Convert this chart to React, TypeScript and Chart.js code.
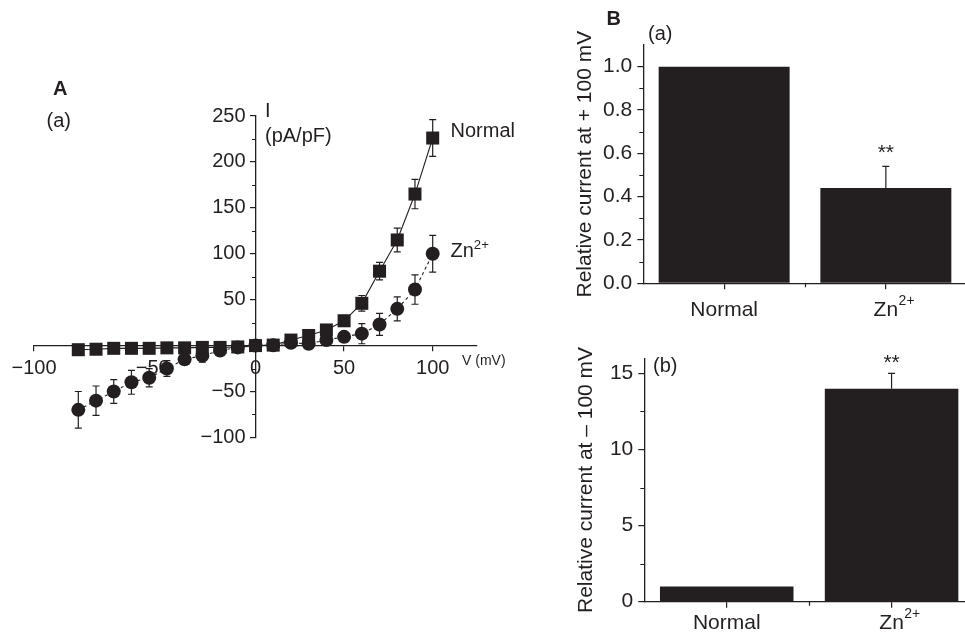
import React, { useEffect, useRef } from 'react';
import { Chart, registerables } from 'chart.js';

Chart.register(...registerables);

const FONT = '"Liberation Sans", Arial, Helvetica, sans-serif';
const INK = '#231f20';

// ---------- Panel A: I–V curves ----------
const voltages = [-100, -90, -80, -70, -60, -50, -40, -30, -20, -10, 0, 10, 20, 30, 40, 50, 60, 70, 80, 90, 100];
const normalCurrent = [-4.5, -4, -3, -3, -3, -2.5, -2.5, -2, -2, -1.5, 0, 0.5, 6, 11, 17, 27, 46, 81, 115, 165, 226];
const normalError = [0, 0, 0, 0, 0, 0, 0, 0, 0, 0, 0, 0, 0, 0, 0, 6, 8.5, 9.5, 13, 16, 20];
const znCurrent = [-70, -60, -50, -40, -35, -25, -15, -11, -5.5, -2, 0, 0.3, 3, 2, 6, 9.5, 13, 23, 40, 61, 100];
const znError = [20, 16, 13, 13, 10, 8.5, 5, 7, 3, 0, 0, 0, 0, 0, 4, 5, 11, 12, 13, 16, 20];
const ivXTickValues = [-125, -58, 0, 50, 100];
const ivXTickLabels = ['\u2212100', '\u221250', '0', '50', '100'];
const ivYMinorTicks = [-75, -25, 25, 75, 125, 175, 225];

// ---------- Panel B: relative currents ----------
const groups = ['Normal', 'Zn2+'];
const relAtPos100 = [1.0, 0.44];
const relAtPos100Err = [0, 0.1];
const relAtPos100Sig = ['', '**'];
const relAtNeg100 = [1.0, 14];
const relAtNeg100Err = [0, 1];
const relAtNeg100Sig = ['', '**'];
const posMinorTicks = [0.1, 0.3, 0.5, 0.7, 0.9];
const negMinorTicks = [2.5, 7.5, 12.5];

const fmtSigned = (v: number) => (v < 0 ? '\u2212' + Math.abs(v) : String(v));

function errorBarPlugin(capHalf: number) {
  return {
    id: 'ivErrorBars',
    beforeDatasetsDraw(chart: any) {
      const ctx = chart.ctx;
      const ys = chart.scales.y;
      chart.data.datasets.forEach((ds: any, di: number) => {
        const errs: number[] = ds.errors;
        if (!errs) return;
        const meta = chart.getDatasetMeta(di);
        ctx.save();
        ctx.strokeStyle = INK;
        ctx.lineWidth = 1.2;
        meta.data.forEach((el: any, i: number) => {
          const e = errs[i];
          if (!e) return;
          const raw = ds.data[i];
          const val = typeof raw === 'number' ? raw : raw.y;
          const px = el.x;
          const yT = ys.getPixelForValue(val + e);
          const yB = ys.getPixelForValue(val - e);
          ctx.beginPath();
          ctx.moveTo(px, yT);
          ctx.lineTo(px, yB);
          ctx.moveTo(px - capHalf, yT);
          ctx.lineTo(px + capHalf, yT);
          ctx.moveTo(px - capHalf, yB);
          ctx.lineTo(px + capHalf, yB);
          ctx.stroke();
        });
        ctx.restore();
      });
    },
  };
}

function minorTickPlugin(cfg: { y?: number[]; x?: number[]; len: number; yAxisAtX?: number; xAxisAtY?: number }) {
  return {
    id: 'minorTicks',
    afterDraw(chart: any) {
      const ctx = chart.ctx;
      const xs = chart.scales.x;
      const ys = chart.scales.y;
      ctx.save();
      ctx.strokeStyle = INK;
      ctx.lineWidth = 1.2;
      ctx.beginPath();
      const ax = cfg.yAxisAtX !== undefined ? xs.getPixelForValue(cfg.yAxisAtX) : chart.chartArea.left;
      (cfg.y || []).forEach((v) => {
        const py = Math.round(ys.getPixelForValue(v)) + 0.5;
        ctx.moveTo(ax, py);
        ctx.lineTo(ax - cfg.len, py);
      });
      const ay = cfg.xAxisAtY !== undefined ? ys.getPixelForValue(cfg.xAxisAtY) : chart.chartArea.bottom;
      (cfg.x || []).forEach((v) => {
        const px = Math.round(xs.getPixelForValue(v)) + 0.5;
        ctx.moveTo(px, ay);
        ctx.lineTo(px, ay + cfg.len);
      });
      ctx.stroke();
      ctx.restore();
    },
  };
}

function drawRichLabel(ctx: CanvasRenderingContext2D, text: string, cx: number, cy: number, size: number) {
  const m = /^(.*?)(\d+[+\-])$/.exec(text);
  const base = m ? m[1] : text;
  const sup = m ? m[2] : '';
  const supSize = Math.round(size * 0.66);
  ctx.font = `${size}px ${FONT}`;
  const bw = ctx.measureText(base).width;
  ctx.textBaseline = 'middle';
  ctx.textAlign = 'left';
  ctx.fillStyle = INK;
  const x0 = cx - bw / 2;
  ctx.fillText(base, x0, cy);
  if (sup) {
    ctx.font = `${supSize}px ${FONT}`;
    ctx.fillText(sup, x0 + bw + 0.5, cy - size * 0.42);
  }
}

function barDecorPlugin(errs: number[], sigs: string[], labelOffset: number, sigGap: number) {
  return {
    id: 'barDecor',
    afterDatasetsDraw(chart: any) {
      const ctx = chart.ctx;
      const xs = chart.scales.x;
      const ys = chart.scales.y;
      const ds = chart.data.datasets[0];
      ctx.save();
      ctx.strokeStyle = INK;
      ctx.lineWidth = 1.2;
      chart.data.labels.forEach((lab: string, i: number) => {
        const px = xs.getPixelForValue(i);
        const val = ds.data[i];
        const e = errs[i];
        const top = ys.getPixelForValue(val + e);
        if (e) {
          ctx.beginPath();
          ctx.moveTo(px, ys.getPixelForValue(val));
          ctx.lineTo(px, top);
          ctx.moveTo(px - 3.5, top);
          ctx.lineTo(px + 3.5, top);
          ctx.stroke();
        }
        if (sigs[i]) {
          ctx.font = `21px ${FONT}`;
          ctx.fillStyle = INK;
          ctx.textAlign = 'center';
          ctx.textBaseline = 'alphabetic';
          ctx.fillText(sigs[i], px, top - sigGap);
        }
        drawRichLabel(ctx, lab, px, chart.chartArea.bottom + labelOffset, 21);
      });
      ctx.restore();
    },
  };
}

function barConfig(opts: {
  values: number[];
  errs: number[];
  sigs: string[];
  max: number;
  step: number;
  decimals: number;
  title: string;
  padding: { left: number; right: number; top: number; bottom: number };
  xHeight: number;
  labelOffset: number;
  sigGap: number;
  minor: number[];
}) {
  return {
    type: 'bar',
    data: {
      labels: groups,
      datasets: [
        {
          data: opts.values,
          backgroundColor: INK,
          borderWidth: 0,
          barPercentage: 0.81,
          categoryPercentage: 1,
        },
      ],
    },
    options: {
      animation: false,
      responsive: false,
      events: [],
      layout: { autoPadding: false, padding: opts.padding },
      plugins: { legend: { display: false }, tooltip: { enabled: false } },
      scales: {
        x: {
          type: 'category',
          offset: true,
          grid: { offset: false, drawOnChartArea: false, drawTicks: true, tickLength: 6, color: INK, lineWidth: 1.2 },
          border: { display: true, color: INK, width: 1.3 },
          ticks: { display: false },
          afterFit: (s: any) => {
            s.height = opts.xHeight;
          },
        },
        y: {
          min: 0,
          max: opts.max,
          ticks: {
            stepSize: opts.step,
            includeBounds: false,
            callback: (v: any) => Number(v).toFixed(opts.decimals),
            font: { family: FONT, size: 21 },
            color: INK,
            padding: 5,
          },
          grid: { drawOnChartArea: false, drawTicks: true, tickLength: 6, color: INK, lineWidth: 1.2 },
          border: { display: true, color: INK, width: 1.3 },
          title: {
            display: true,
            text: opts.title,
            font: { family: FONT, size: 21 },
            color: INK,
            padding: { top: 4, bottom: 4 },
          },
          afterFit: (s: any) => {
            s.width = 75;
          },
        },
      },
    },
    plugins: [barDecorPlugin(opts.errs, opts.sigs, opts.labelOffset, opts.sigGap), minorTickPlugin({ y: opts.minor, x: [0.5], len: 4 })],
  };
}

const Txt = ({ x, cy, size, bold, children }: any) => (
  <div
    style={{
      position: 'absolute',
      left: x,
      top: cy - size * 0.5,
      fontFamily: FONT,
      fontSize: size,
      fontWeight: bold ? 'bold' : 'normal',
      lineHeight: 1,
      color: INK,
      whiteSpace: 'nowrap',
    }}
  >
    {children}
  </div>
);

const Sup = ({ children }: any) => (
  <span style={{ fontSize: '0.66em', position: 'relative', top: '-0.62em' }}>{children}</span>
);

export default function App() {
  const ivRef = useRef<HTMLCanvasElement>(null);
  const posRef = useRef<HTMLCanvasElement>(null);
  const negRef = useRef<HTMLCanvasElement>(null);

  useEffect(() => {
    const normalPts = voltages.map((v, i) => ({ x: v, y: normalCurrent[i] }));
    const znPts = voltages.map((v, i) => ({ x: v, y: znCurrent[i] }));

    const iv = new Chart(ivRef.current as HTMLCanvasElement, {
      type: 'line',
      data: {
        datasets: [
          {
            label: 'Normal',
            data: normalPts,
            errors: normalError,
            borderColor: INK,
            borderWidth: 1.1,
            pointStyle: 'rect',
            pointRadius: 9.2,
            pointBackgroundColor: INK,
            pointBorderColor: INK,
            pointBorderWidth: 0,
            tension: 0,
            fill: false,
            clip: false,
          } as any,
          {
            label: 'Zn2+',
            data: znPts,
            errors: znError,
            borderColor: INK,
            borderWidth: 1.1,
            borderDash: [3, 3],
            pointStyle: 'circle',
            pointRadius: 7,
            pointBackgroundColor: INK,
            pointBorderColor: INK,
            pointBorderWidth: 0,
            tension: 0,
            fill: false,
            clip: false,
          } as any,
        ],
      },
      options: {
        animation: false,
        responsive: false,
        events: [],
        layout: { autoPadding: false, padding: { left: 34, right: 83, top: 56, bottom: 62.6 } },
        plugins: { legend: { display: false }, tooltip: { enabled: false } },
        scales: {
          x: {
            type: 'linear',
            min: -125,
            max: 125,
            position: { y: 0 } as any,
            afterBuildTicks: (s: any) => {
              s.ticks = ivXTickValues.map((v) => ({ value: v }));
            },
            afterFit: (s: any) => {
              s.height = 0;
            },
            ticks: {
              autoSkip: false,
              maxRotation: 0,
              callback: (_v: any, i: number) => ivXTickLabels[i],
              font: { family: FONT, size: 20 },
              color: INK,
              padding: 6,
            },
            grid: { drawOnChartArea: false, drawTicks: true, tickLength: 5, color: INK, lineWidth: 1.2 },
            border: { display: true, color: INK, width: 1.3 },
          },
          y: {
            type: 'linear',
            min: -100,
            max: 250,
            position: { x: 0 } as any,
            afterFit: (s: any) => {
              s.width = 0;
            },
            ticks: {
              stepSize: 50,
              // trailing en space keeps the label clear of the centred axis line
              callback: (v: any) => (Number(v) === 0 ? '' : fmtSigned(Number(v)) + '\u2002'),
              font: { family: FONT, size: 20 },
              color: INK,
              padding: 5,
            },
            grid: { drawOnChartArea: false, drawTicks: true, tickLength: 5, color: INK, lineWidth: 1.2 },
            border: { display: true, color: INK, width: 1.3 },
          },
        },
      } as any,
      plugins: [errorBarPlugin(3.5), minorTickPlugin({ y: ivYMinorTicks, len: 3.5, yAxisAtX: 0 })],
    } as any);

    const pos = new Chart(
      posRef.current as HTMLCanvasElement,
      barConfig({
        values: relAtPos100,
        errs: relAtPos100Err,
        sigs: relAtPos100Sig,
        max: 1.1,
        step: 0.2,
        decimals: 1,
        title: 'Relative current at + 100 mV',
        padding: { left: 8.3, right: 8.3, top: 45, bottom: 11.7 },
        xHeight: 40,
        labelOffset: 27,
        sigGap: 7,
        minor: posMinorTicks,
      }) as any
    );

    const neg = new Chart(
      negRef.current as HTMLCanvasElement,
      barConfig({
        values: relAtNeg100,
        errs: relAtNeg100Err,
        sigs: relAtNeg100Sig,
        max: 16,
        step: 5,
        decimals: 0,
        title: 'Relative current at \u2013 100 mV',
        padding: { left: 9.3, right: 1, top: 28.2, bottom: 8.3 },
        xHeight: 30,
        labelOffset: 21.5,
        sigGap: 4,
        minor: negMinorTicks,
      }) as any
    );

    return () => {
      iv.destroy();
      pos.destroy();
      neg.destroy();
    };
  }, []);

  return (
    <div style={{ position: 'absolute', left: 0, top: 0, width: 965, height: 640, overflow: 'hidden', background: '#fff' }}>
      <canvas ref={ivRef} width={560} height={440} style={{ position: 'absolute', left: 0, top: 60 }} />
      <canvas ref={posRef} width={415} height={335} style={{ position: 'absolute', left: 560, top: 0 }} />
      <canvas ref={negRef} width={415} height={310} style={{ position: 'absolute', left: 560, top: 330 }} />

      <Txt x={53} cy={88} size={20} bold>A</Txt>
      <Txt x={46.5} cy={120} size={20}>(a)</Txt>
      <Txt x={265} cy={110} size={20}>I</Txt>
      <Txt x={265} cy={135} size={20}>(pA/pF)</Txt>
      <Txt x={450.5} cy={130} size={20}>Normal</Txt>
      <Txt x={450.5} cy={250} size={20}>
        Zn<Sup>2+</Sup>
      </Txt>
      <Txt x={462} cy={360} size={14}>V (mV)</Txt>

      <Txt x={606.5} cy={17.5} size={20} bold>B</Txt>
      <Txt x={648} cy={33} size={20}>(a)</Txt>
      <Txt x={653} cy={365} size={20}>(b)</Txt>
    </div>
  );
}
